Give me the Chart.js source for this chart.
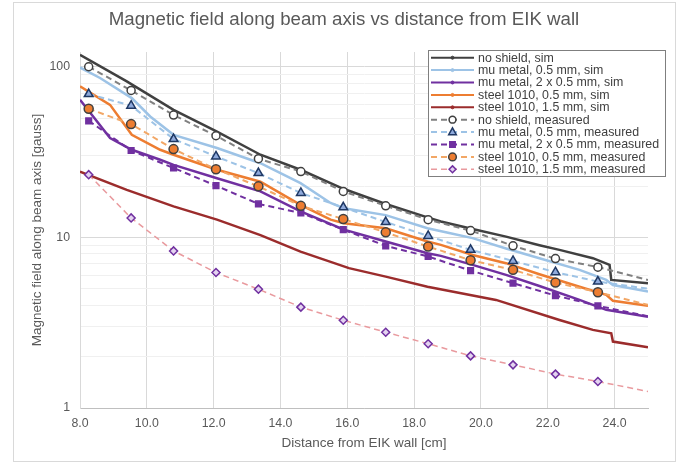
<!DOCTYPE html>
<html>
<head>
<meta charset="utf-8">
<script src="https://cdn.jsdelivr.net/npm/chart.js@4.4.0/dist/chart.umd.min.js"></script>
<style>
  html, body { margin: 0; padding: 0; background: #fff; }
  #wrap { position: relative; width: 678px; height: 466px; }
  #frame { position: absolute; left: 13px; top: 2px; width: 663px; height: 460px; border: 1px solid #d9d9d9; box-sizing: border-box; }
  canvas { position: absolute; left: 0; top: 0; }
</style>
</head>
<body>
<div id="wrap"><div id="frame"></div><canvas id="chart" width="678" height="466"></canvas></div>
<script>
const titleText = "Magnetic field along beam axis vs distance from EIK wall";
const xTitle = "Distance from EIK wall [cm]";
const yTitle = "Magnetic field along beam axis [gauss]";
const yLabelValues = [1, 10, 100];

const seriesNames = [
    "no shield, sim",
    "mu metal, 0.5 mm, sim",
    "mu metal, 2 x 0.5 mm, sim",
    "steel 1010, 0.5 mm, sim",
    "steel 1010, 1.5 mm, sim",
    "no shield, measured",
    "mu metal, 0.5 mm, measured",
    "mu metal, 2 x 0.5 mm, measured",
    "steel 1010, 0.5 mm, measured",
    "steel 1010, 1.5 mm, measured"
];

// simulation curves
const noShieldSimX = [8.0, 9.4, 10.8, 12.1, 13.4, 14.6, 15.9, 17.15, 18.4, 18.8, 19.75, 20.75, 21.75, 22.35, 23.35, 23.85, 23.9, 25.0];
const noShieldSim = [117.6, 82.0, 55.9, 41.7, 30.5, 24.9, 19.2, 15.7, 13.1, 12.4, 11.2, 10.1, 9.0, 8.45, 7.55, 6.9, 5.63, 5.38];

const muSimX = [8.0, 8.6, 9.55, 10.1, 10.8, 12.1, 13.4, 14.6, 15.5, 15.9, 17.15, 18.4, 19.05, 19.75, 20.75, 21.75, 22.95, 23.75, 23.95, 25.0];
const muSim = [99, 85.9, 65.5, 51.1, 39.9, 33.4, 27.2, 20.8, 15.9, 14.8, 13.5, 11.3, 10.6, 9.9, 8.6, 7.55, 6.45, 5.63, 5.26, 4.81];

const mu2SimX = [8.0, 8.9, 9.55, 10.4, 10.8, 12.1, 13.4, 14.6, 15.9, 17.15, 18.4, 18.8, 19.75, 20.75, 21.75, 22.95, 23.75, 25.0];
const mu2Sim = [64.0, 38.2, 32.6, 28.5, 26.6, 22.2, 18.6, 14.2, 11.1, 9.45, 8.08, 7.79, 6.9, 6.03, 5.19, 4.30, 3.76, 3.43];

const steelSimX = [8.0, 8.9, 9.55, 10.4, 10.8, 12.1, 13.4, 14.6, 15.5, 15.9, 17.15, 18.4, 18.8, 19.75, 20.75, 21.75, 22.95, 23.75, 23.95, 25.0];
const steelSim = [76.7, 59.8, 39.9, 32.6, 30.5, 24.9, 21.2, 15.5, 12.7, 12.1, 11.3, 9.45, 9.04, 7.89, 7.06, 6.08, 5.14, 4.60, 4.25, 3.97];

const steel15SimX = [8.0, 9.4, 10.8, 12.1, 13.4, 14.6, 16.05, 17.15, 18.4, 20.45, 22.35, 23.35, 23.9, 23.95, 25.0];
const steel15Sim = [24.3, 19.0, 15.2, 12.7, 10.3, 8.25, 6.6, 5.89, 5.14, 4.30, 3.28, 2.87, 2.74, 2.45, 2.27];

// measurements (last value = where the dashed line leaves the plot, no marker)
const measX = [8.26, 9.53, 10.80, 12.07, 13.34, 14.61, 15.88, 17.15, 18.42, 19.69, 20.96, 22.23, 23.50, 25.0];
const noShieldMeas = [100, 72.6, 52.1, 39.4, 28.9, 24.3, 18.6, 15.3, 12.7, 10.96, 8.92, 7.51, 6.69, 5.63];
const muMeas = [69.2, 59.1, 37.7, 29.8, 23.8, 18.2, 15.0, 12.3, 10.2, 8.45, 7.28, 6.25, 5.51, 5.0];
const mu2Meas = [48.2, 32.3, 25.5, 20.1, 15.7, 13.9, 11.1, 8.92, 7.72, 6.39, 5.39, 4.56, 3.97, 3.45];
const steelMeas = [56.7, 46.1, 32.9, 25.1, 19.9, 15.3, 12.8, 10.7, 8.83, 7.35, 6.45, 5.43, 4.77, 4.02];
const steel15Meas = [23.3, 13.0, 8.33, 6.22, 4.97, 3.90, 3.27, 2.78, 2.38, 2.02, 1.79, 1.58, 1.43, 1.25];

const yMax = 122;
const FONT = '"Liberation Sans", Arial, sans-serif';

function pts(xs, ys) {
    return xs.map((x, i) => ({ x: x, y: ys[i] }));
}

function simSet(i, xs, ys, color) {
    return {
        label: seriesNames[i], data: pts(xs, ys),
        borderColor: color, backgroundColor: color, borderWidth: 2.5,
        pointRadius: 0, order: 10 - i
    };
}

function measSet(i, ys, color, style, radius, fill, edge) {
    return {
        label: seriesNames[i], data: pts(measX, ys),
        borderColor: color, borderWidth: 2, borderDash: [6, 4],
        pointStyle: style,
        pointRadius: ctx => ctx.dataIndex === measX.length - 1 ? 0 : radius,
        pointBackgroundColor: fill, pointBorderColor: edge, pointBorderWidth: 1.5,
        order: 10 - i,
        legendRadius: radius
    };
}

const datasets = [
    simSet(0, noShieldSimX, noShieldSim, "#404040"),
    simSet(1, muSimX, muSim, "#9dc3e6"),
    simSet(2, mu2SimX, mu2Sim, "#7030a0"),
    simSet(3, steelSimX, steelSim, "#ed7d31"),
    simSet(4, steel15SimX, steel15Sim, "#9b2c2c"),
    measSet(5, noShieldMeas, "#808080", "circle", 4, "#ffffff", "#404040"),
    measSet(6, muMeas, "#9dc3e6", "triangle", 5, "#8faadc", "#1f3864"),
    measSet(7, mu2Meas, "#7030a0", "rect", 4, "#7030a0", "#7030a0"),
    measSet(8, steelMeas, "#f2a766", "circle", 4.5, "#ed7d31", "#404040"),
    measSet(9, steel15Meas, "#e99a9e", "rectRot", 4, "#e4d3f0", "#7030a0")
];
datasets[9].borderWidth = 1.5;

function marker(ctx, style, x, y, r) {
    ctx.beginPath();
    if (style === "circle") {
        ctx.arc(x, y, r, 0, Math.PI * 2);
    } else if (style === "triangle") {
        ctx.moveTo(x, y - r);
        ctx.lineTo(x + r * 0.9, y + r * 0.6);
        ctx.lineTo(x - r * 0.9, y + r * 0.6);
        ctx.closePath();
    } else if (style === "rect") {
        ctx.rect(x - r * 0.8, y - r * 0.8, r * 1.6, r * 1.6);
    } else if (style === "rectRot") {
        ctx.moveTo(x, y - r); ctx.lineTo(x + r, y); ctx.lineTo(x, y + r); ctx.lineTo(x - r, y);
        ctx.closePath();
    }
    ctx.fill();
    ctx.stroke();
}

// title + boxed legend inside the plot, like the spreadsheet original
const boxLegend = {
    id: "boxLegend",
    afterDraw(chart) {
        const ctx = chart.ctx;
        ctx.save();
        ctx.fillStyle = "#595959";
        ctx.font = "18.7px " + FONT;
        ctx.textAlign = "center";
        ctx.textBaseline = "middle";
        ctx.fillText(titleText, 344, 20);

        ctx.fillStyle = "#ffffff";
        ctx.fillRect(428.5, 50.5, 237, 126);
        ctx.strokeStyle = "#7f7f7f";
        ctx.lineWidth = 1;
        ctx.strokeRect(428.5, 50.5, 237, 126);

        ctx.font = "12.4px " + FONT;
        ctx.textAlign = "left";
        chart.data.datasets.forEach((ds, i) => {
            const y = 57.7 + i * 12.4;
            ctx.setLineDash(ds.borderDash || []);
            ctx.strokeStyle = ds.borderColor;
            ctx.lineWidth = Math.min(ds.borderWidth, 2);
            ctx.beginPath();
            ctx.moveTo(431, y);
            ctx.lineTo(474, y);
            ctx.stroke();
            ctx.setLineDash([]);
            if (ds.legendRadius) {
                ctx.fillStyle = ds.pointBackgroundColor;
                ctx.strokeStyle = ds.pointBorderColor;
                ctx.lineWidth = 1.5;
                marker(ctx, ds.pointStyle, 452.5, y, ds.legendRadius * 0.85);
            } else {
                ctx.fillStyle = ds.borderColor;
                ctx.strokeStyle = ds.borderColor;
                ctx.lineWidth = 1;
                marker(ctx, "circle", 452.5, y, 1.5);
            }
            ctx.fillStyle = "#404040";
            ctx.fillText(ds.label, 478, y + 0.5);
        });
        ctx.restore();
    }
};

function yGridColor(ctx) {
    const v = ctx.tick ? ctx.tick.value : undefined;
    if (!v || v >= yMax) return "transparent";
    const p = Math.pow(10, Math.floor(Math.log10(v) + 1e-9));
    const m = v / p;
    if (Math.abs(m - 1) < 1e-6) return "#d9d9d9";
    if (Math.abs(m - Math.round(m)) < 1e-6) return "#f0f0f0";
    return "transparent";
}

new Chart(document.getElementById("chart"), {
    type: "line",
    data: { datasets: datasets },
    plugins: [boxLegend],
    options: {
        responsive: false,
        animation: false,
        events: [],
        layout: { padding: { top: 52, right: 30, bottom: 0, left: 0 } },
        plugins: {
            legend: { display: false },
            title: { display: false },
            tooltip: { enabled: false }
        },
        scales: {
            x: {
                type: "linear", min: 8, max: 25,
                afterFit: s => { s.height = 58; },
                ticks: {
                    stepSize: 2, includeBounds: false, padding: 8,
                    color: "#595959", font: { family: FONT, size: 12.3 },
                    callback: v => Number(v).toFixed(1)
                },
                grid: { color: "#d9d9d9", drawTicks: false },
                border: { color: "#bfbfbf" },
                title: {
                    display: true, text: xTitle, color: "#595959",
                    font: { family: FONT, size: 13.5 }, padding: { top: 0, bottom: 15 }
                }
            },
            y: {
                type: "logarithmic", min: 1, max: yMax,
                afterFit: s => { s.width = 80; },
                ticks: {
                    autoSkip: false, padding: 10,
                    color: "#595959", font: { family: FONT, size: 12.3 },
                    callback: v => yLabelValues.includes(v) ? String(v) : ""
                },
                grid: { color: yGridColor, drawTicks: false },
                border: { color: "#d9d9d9" },
                title: {
                    display: true, text: yTitle, color: "#595959",
                    font: { family: FONT, size: 13.5 }, padding: { top: 29, bottom: 0 }
                }
            }
        }
    }
});
</script>
</body>
</html>
